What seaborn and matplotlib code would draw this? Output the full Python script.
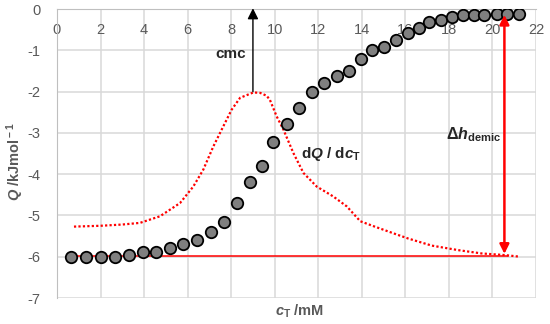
import matplotlib
matplotlib.use("Agg")
import matplotlib.pyplot as plt
import seaborn as sns
import pandas as pd

# titration points (cT in mM, Q in kJ/mol)
ct = [0.64, 1.33, 2.0, 2.66, 3.31, 3.94, 4.56, 5.19, 5.80, 6.44, 7.09, 7.67, 8.25, 8.86, 9.43,
      9.92, 10.55, 11.12, 11.73, 12.28, 12.85, 13.41, 13.96, 14.48, 15.02, 15.56, 16.1, 16.63,
      17.1, 17.62, 18.14, 18.63, 19.17, 19.63, 20.2, 20.68, 21.22]
q = [-6.0, -6.0, -6.0, -6.0, -5.96, -5.89, -5.89, -5.80, -5.69, -5.59, -5.40, -5.15, -4.71, -4.20, -3.80,
     -3.21, -2.79, -2.40, -2.0, -1.79, -1.61, -1.49, -1.20, -1.0, -0.91, -0.76, -0.57, -0.46,
     -0.32, -0.26, -0.20, -0.15, -0.15, -0.15, -0.11, -0.11, -0.11]

# derivative curve dQ/dcT (scaled)
deriv_x = [0.78, 2.0, 3.0, 3.81, 4.73, 5.65, 6.26, 6.72, 7.18, 7.64, 8.02, 8.41, 9.02, 9.33,
           9.63, 9.78, 10.09, 10.4, 10.86, 11.32, 11.93, 12.69, 13.31, 13.93, 14.54, 15.6,
           16.14, 17.21, 18.43, 19.5, 20.58, 21.27]
deriv_y = [-5.27, -5.25, -5.22, -5.18, -5.02, -4.70, -4.30, -3.89, -3.33, -2.84, -2.44, -2.15, -2.02, -2.03,
           -2.10, -2.20, -2.60, -2.92, -3.49, -3.97, -4.30, -4.54, -4.78, -5.14, -5.26, -5.46,
           -5.56, -5.73, -5.84, -5.92, -5.96, -6.0]

base_x = [0.52, 20.73]
base_y = [-5.98, -5.98]

xticks = list(range(0, 23, 2))
yticks = list(range(-7, 1))

cmc = 9.0
demic_x = 20.55

sns.set_style("white")
plt.rcParams['font.family'] = ['Liberation Sans', 'DejaVu Sans']
plt.rcParams['axes.unicode_minus'] = False
plt.rcParams['mathtext.fontset'] = 'custom'
plt.rcParams['mathtext.rm'] = 'Liberation Sans:bold'
plt.rcParams['mathtext.it'] = 'Liberation Sans:bold:italic'
plt.rcParams['mathtext.bf'] = 'Liberation Sans:bold'

fig = plt.figure(figsize=(5.5, 3.24), dpi=100)
ax = fig.add_axes([0.1036, 0.0802, 0.8709, 0.8918])

df = pd.DataFrame({"ct": ct, "q": q})
dfd = pd.DataFrame({"x": deriv_x, "y": deriv_y})

# light grid, drawn under everything
for t in xticks:
    ax.axvline(t, color="#d9d9d9", lw=1.1, zorder=0)
for t in yticks:
    ax.axhline(t, color="#d9d9d9", lw=1.1, zorder=0)

sns.lineplot(x=base_x, y=base_y, color="red", lw=1.1, ax=ax, zorder=2)
sns.lineplot(data=dfd, x="x", y="y", color="red", lw=1.6, linestyle=(0, (1, 1)), ax=ax,
             sort=False, zorder=2)
sns.scatterplot(data=df, x="ct", y="q", s=68, color="#7f7f7f", edgecolor="black",
                linewidth=1.3, ax=ax, zorder=3)

ax.set_xlim(0, 22)
ax.set_ylim(-7, 0)

# x axis sits at Q = 0 (top edge), like the Excel original
for s in ["right", "top"]:
    ax.spines[s].set_visible(False)
ax.spines["left"].set_color("#bfbfbf")
ax.spines["bottom"].set_color("#bfbfbf")
ax.spines["bottom"].set_position(("data", 0))

ax.set_xticks(xticks)
ax.set_yticks(yticks)
ax.tick_params(axis="both", colors="#595959", labelsize=10.5, length=0)
ax.tick_params(axis="x", pad=10)
ax.tick_params(axis="y", pad=12)
ax.set_xlabel("")
ax.set_ylabel("")

fig.text(0.545, 0.038, r"$c_{\rm T}$ /mM", ha="center", va="center", fontsize=10.5,
         color="#595959", fontweight="bold")
fig.text(0.027, 0.5, r"$Q$ /kJmol$^{\rm -1}$", ha="center", va="center", rotation=90,
         fontsize=10.5, color="#595959", fontweight="bold")

ax.annotate("", xy=(cmc, 0.02), xytext=(cmc, -2.0),
            arrowprops=dict(arrowstyle="-|>", color="black", lw=1, mutation_scale=16,
                            shrinkA=0, shrinkB=0), annotation_clip=False)
ax.annotate("", xy=(demic_x, -5.93), xytext=(demic_x, -0.14),
            arrowprops=dict(arrowstyle="<|-|>", color="red", lw=1.8, mutation_scale=14,
                            shrinkA=0, shrinkB=0), annotation_clip=False)

ax.text(8.7, -1.1, "cmc", ha="right", va="center", fontsize=11, fontweight="bold")
ax.text(11.2, -3.5, r"d$Q$ / d$c_{\rm T}$", ha="left", va="center", fontsize=11,
        fontweight="bold")
ax.text(17.85, -3.05, r"$\Delta h_{\rm demic}$", ha="left", va="center", fontsize=11.5,
        fontweight="bold")

fig.savefig("out.png", dpi=100)
